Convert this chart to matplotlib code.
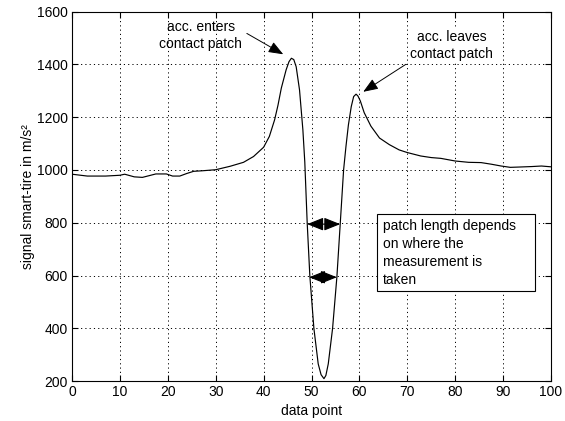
import matplotlib
matplotlib.use("Agg")
import matplotlib.pyplot as plt
from matplotlib.patches import Rectangle

plt.rcParams['font.family'] = ['Liberation Sans Narrow', 'Liberation Sans', 'DejaVu Sans']

# ---- data ----
data_x = [0, 3.2, 7, 10, 11, 13, 14.7, 17.5, 19.7, 21, 22.5, 24, 25.4, 27.2, 30,
          33, 35.8, 37.9, 40, 41.2, 42.3, 43.0, 43.7, 44.7, 45.3, 45.8, 46.3, 46.8,
          47.5, 48.2, 48.6, 49.1, 49.65, 50.5, 51.4, 52.0, 52.6, 53.0, 53.5, 54.4,
          55.3, 56.0, 56.7, 57.2, 57.7, 58.3, 58.8, 59.3, 59.7, 60.2,
          61.0, 62.4, 64.2, 66.25, 68.3, 70, 72.8, 75, 77, 80, 82.8, 85.4, 87.5,
          89.6, 91.5, 93.1, 96, 98, 100]
data_y = [984, 977, 977, 980, 984, 974, 972, 985, 985, 977, 977, 987, 995, 997, 1001,
          1014, 1029, 1051, 1086, 1127, 1190, 1245, 1310, 1379, 1410, 1423, 1418, 1391,
          1303, 1152, 1030, 800, 600, 400, 266, 225, 210, 222, 266, 400,
          595, 797, 1000, 1090, 1170, 1240, 1278, 1287, 1280, 1261,
          1217, 1166, 1121, 1096, 1076, 1066, 1053, 1047, 1044, 1034, 1029, 1028, 1022,
          1015, 1010, 1011, 1013, 1015, 1012]

x_ticks = [0, 10, 20, 30, 40, 50, 60, 70, 80, 90, 100]
y_ticks = [200, 400, 600, 800, 1000, 1200, 1400, 1600]
x_label = "data point"
y_label = "signal smart-tire in m/s²"

ann1_text = "acc. enters\ncontact patch"
ann1_text_xy = (26.9, 1508)
ann1_tail = (36.5, 1517)
ann1_head = (44.1, 1438)

ann2_text = "acc. leaves\ncontact patch"
ann2_text_xy = (79.3, 1472)
ann2_tail = (69.7, 1400)
ann2_head = (60.8, 1296)

box_text = "patch length depends\non where the\nmeasurement is\ntaken"
box_x0, box_x1 = 63.6, 96.7
box_y0, box_y1 = 543, 833

arrow800 = (49.1, 56.0, 795)
arrow600 = (49.5, 55.3, 594)

# ---- figure ----
fig = plt.figure(figsize=(5.65, 4.21), dpi=100)
ax = fig.add_axes([72 / 565, 1 - 381.3 / 421, (551 - 72) / 565, (381.3 - 11.5) / 421])

ax.plot(data_x, data_y, color='black', lw=0.85)

ax.set_xlim(0, 100)
ax.set_ylim(200, 1600)
ax.set_xticks(x_ticks)
ax.set_yticks(y_ticks)
ax.tick_params(direction='in', length=4, width=0.8, top=True, right=True,
               labelsize=10, pad=3, colors='black')
ax.grid(True, color='black', linestyle=(0, (1.2, 3.2)), linewidth=0.7)
for s in ax.spines.values():
    s.set_linewidth(0.8)

ax.set_xlabel(x_label, fontsize=10, labelpad=3)
ax.set_ylabel(y_label, fontsize=10, labelpad=1)

ax.text(*ann1_text_xy, ann1_text, ha='center', va='center', fontsize=10, linespacing=1.3)
ax.annotate('', xy=ann1_head, xytext=ann1_tail,
            arrowprops=dict(arrowstyle='-|>,head_length=0.9,head_width=0.35',
                            color='black', lw=0.7, shrinkA=0, shrinkB=0))
ax.text(*ann2_text_xy, ann2_text, ha='center', va='center', fontsize=10, linespacing=1.3,
        bbox=dict(facecolor='white', edgecolor='none', pad=0.5))
ax.annotate('', xy=ann2_head, xytext=ann2_tail,
            arrowprops=dict(arrowstyle='-|>,head_length=0.9,head_width=0.35',
                            color='black', lw=0.7, shrinkA=0, shrinkB=0))

ax.add_patch(Rectangle((box_x0, box_y0), box_x1 - box_x0, box_y1 - box_y0,
                       facecolor='white', edgecolor='black', lw=0.8, zorder=5))
ax.text(box_x0 + 1.3, box_y1 - 20, box_text, ha='left', va='top', fontsize=10,
        linespacing=1.35, zorder=6)

for (xa, xb, yy) in (arrow800, arrow600):
    ax.annotate('', xy=(xb, yy), xytext=(xa, yy),
                arrowprops=dict(arrowstyle='<|-|>,head_length=1.0,head_width=0.4',
                                color='black', lw=0.8, shrinkA=0, shrinkB=0),
                zorder=7)

fig.savefig("out.png", dpi=100)
